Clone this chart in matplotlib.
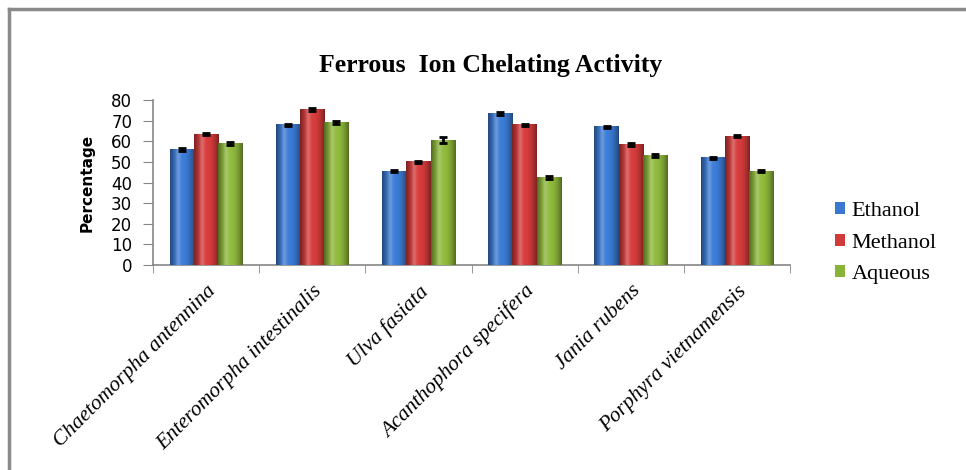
import numpy as np
import matplotlib
matplotlib.use("Agg")
import matplotlib.pyplot as plt
from matplotlib.colors import to_rgb
from matplotlib.lines import Line2D

# data
species = ["Chaetomorpha antennina", "Enteromorpha intestinalis", "Ulva fasiata",
           "Acanthophora specifera", "Jania rubens", "Porphyra vietnamensis"]
ethanol = [56, 68, 45.5, 73.5, 67, 52]
methanol = [63.5, 75.5, 50, 68, 58.5, 62.5]
aqueous = [59, 69, 60.5, 42.5, 53, 45.5]
ethanol_err = [0.6, 0.6, 0.6, 0.6, 0.6, 0.6]
methanol_err = [0.6, 0.6, 0.6, 0.6, 0.6, 0.6]
aqueous_err = [0.6, 0.6, 1.5, 0.6, 0.6, 0.6]
yticks = [0, 10, 20, 30, 40, 50, 60, 70, 80]

series = [("Ethanol", ethanol, ethanol_err, "#3a78cf"),
          ("Methanol", methanol, methanol_err, "#cf3a3a"),
          ("Aqueous", aqueous, aqueous_err, "#8ab33a")]


def cylinder(color, n=40):
    # horizontal shading to give the bars a rounded look
    base = np.array(to_rgb(color))
    t = np.linspace(-1, 1, n)
    light = 1 - np.abs(t) ** 2
    rgb = base[None, :] * (0.6 + 0.45 * light[:, None])
    rgb = rgb + (1 - rgb) * (0.25 * np.exp(-((t + 0.35) / 0.2) ** 2))[:, None]
    return np.clip(rgb, 0, 1)[None, :, :]


fig = plt.figure(figsize=(9.66, 4.7), dpi=100)
ax = fig.add_axes([153 / 966, 1 - 265 / 470, 637 / 966, 165 / 470])

x = np.arange(len(species))
w = 0.228
for i, (name, vals, errs, col) in enumerate(series):
    pos = x + (i - 1) * w
    ax.bar(pos, vals, width=w, color=col, label=name, zorder=2)
    grad = cylinder(col)
    for p, v in zip(pos, vals):
        ax.imshow(grad, extent=[p - w / 2, p + w / 2, 0, v], aspect="auto",
                  zorder=3, interpolation="bilinear")
    ax.errorbar(pos, vals, yerr=errs, fmt="none", ecolor="black",
                elinewidth=2, capsize=3, capthick=2, zorder=4)

ax.set_xlim(-0.5, len(species) - 0.5)
ax.set_ylim(0, 80)
ax.set_yticks(yticks)
ax.tick_params(axis="y", labelsize=12, length=7, color="#868686", pad=8)

ax.set_xticks(x)
ax.set_xticklabels(species, rotation=45, ha="right", rotation_mode="anchor",
                   family="Liberation Serif", style="italic", fontsize=15.5)
ax.tick_params(axis="x", length=0, pad=12)
ax.set_xticks(np.arange(-0.5, len(species)), minor=True)
ax.tick_params(axis="x", which="minor", length=6, color="#868686")

for s in ["top", "right"]:
    ax.spines[s].set_visible(False)
for s in ["left", "bottom"]:
    ax.spines[s].set_color("#868686")
    ax.spines[s].set_linewidth(1.2)

ax.set_ylabel("Percentage", fontsize=11, fontweight="bold", labelpad=12)

fig.text(0.508, 0.86, "Ferrous  Ion Chelating Activity", ha="center", va="center",
         family="Liberation Serif", fontweight="bold", fontsize=18.5)

fig.legend(loc="center left", bbox_to_anchor=(835 / 966, 1 - 243 / 470),
           bbox_transform=fig.transFigure, frameon=False, borderpad=0, borderaxespad=0,
           prop={"family": "Liberation Serif", "size": 16},
           handlelength=0.45, handleheight=0.45, handletextpad=0.3, labelspacing=0.55)

# outer chart border (only top and left edges are visible in the crop)
fig.add_artist(Line2D([9 / 966, 9 / 966], [0, 1 - 9 / 470], color="#8a8a8a", lw=2.5))
fig.add_artist(Line2D([9 / 966, 1], [1 - 9 / 470, 1 - 9 / 470], color="#8a8a8a", lw=2.5))

fig.savefig("out.png", dpi=100)
